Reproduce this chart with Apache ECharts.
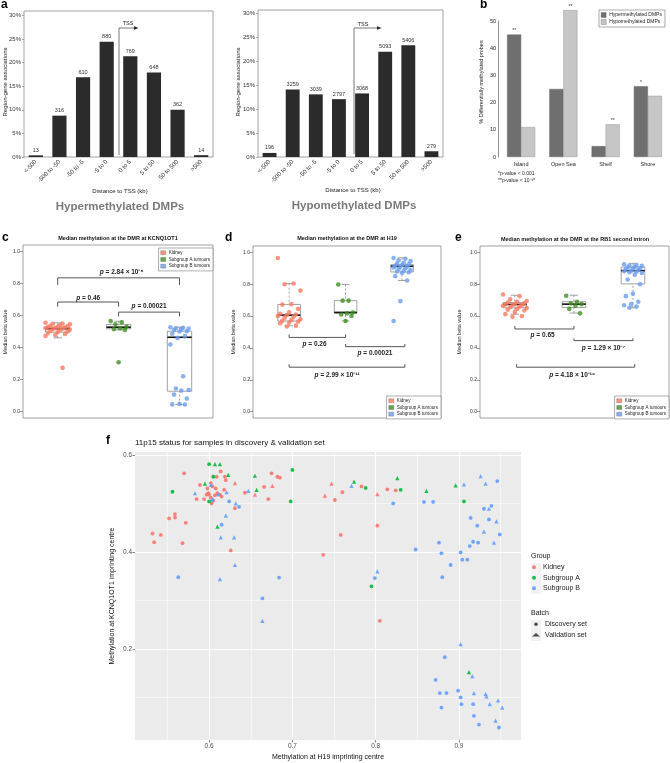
<!DOCTYPE html>
<html><head><meta charset="utf-8">
<script src="https://cdn.jsdelivr.net/npm/echarts@6/dist/echarts.min.js"></script>
<style>html,body{margin:0;padding:0;background:#fff}#c{width:670px;height:763px}</style>
</head><body><div id="c"></div>
<script>
// ---------- Panel a ----------
const tssCategories = ['<-500','-500 to -50','-50 to -5','-5 to 0','0 to 5','5 to 50','50 to 500','>500'];
const hyperCounts = [13,316,610,880,769,648,362,14];
const hyperPercent = [0.36,8.75,16.9,24.4,21.3,17.9,10.0,0.39];
const hypoCounts = [196,3259,3039,2797,3068,5093,5406,279];
const hypoPercent = [0.85,14.1,13.1,12.1,13.3,22.0,23.4,1.2];
const pctTicks = [0,5,10,15,20,25,30];

// ---------- Panel b ----------
const cpgCategories = ['Island','Open Sea','Shelf','Shore'];
const cpgHyper = [45,25,4,26];
const cpgHypo = [11,54,12,22.5];
const cpgHyperStars = ['**','','','*'];
const cpgHypoStars = ['','**','**',''];

// ---------- Panels c-e ----------
const betaTicks = [0,0.2,0.4,0.6,0.8,1.0];
const boxGroups = ['Kidney','Subgroup A tumours','Subgroup B tumours'];
// [x, whiskerLow, q1, median, q3, whiskerHigh]
const kcnqBoxes = [[1,0.46,0.496,0.517,0.527,0.554],[2,0.51,0.517,0.527,0.544,0.564],[3,0.044,0.127,0.464,0.502,0.527]];
const h19Boxes  = [[1,0.539,0.569,0.606,0.673,0.804],[2,0.569,0.617,0.623,0.697,0.798],[3,0.823,0.877,0.913,0.923,0.966]];
const rb1Boxes  = [[1,0.612,0.652,0.673,0.685,0.731],[2,0.619,0.654,0.675,0.69,0.731],[3,0.652,0.802,0.885,0.908,0.931]];

const kcnqKidney = [0.555,0.55,0.548,0.545,0.54,0.535,0.532,0.53,0.528,0.525,0.522,0.52,0.518,0.515,0.512,0.51,0.505,0.50,0.495,0.49,0.485,0.478,0.472,0.273];
const kcnqSubA = [0.565,0.558,0.545,0.53,0.52,0.515,0.51,0.308];
const kcnqSubB = [0.527,0.523,0.52,0.518,0.513,0.51,0.502,0.50,0.486,0.471,0.46,0.419,0.221,0.144,0.135,0.131,0.106,0.081,0.048,0.045,0.044];

const h19Kidney = [0.965,0.805,0.80,0.76,0.675,0.672,0.645,0.623,0.615,0.61,0.606,0.60,0.595,0.59,0.58,0.575,0.57,0.565,0.56,0.555,0.54,0.535];
const h19SubA = [0.798,0.697,0.697,0.622,0.617,0.61,0.60,0.569];
const h19SubB = [0.965,0.96,0.95,0.945,0.935,0.93,0.925,0.92,0.915,0.912,0.91,0.905,0.90,0.895,0.89,0.885,0.88,0.875,0.87,0.85,0.823,0.694,0.569];

const rb1Kidney = [0.735,0.725,0.705,0.695,0.69,0.685,0.68,0.675,0.672,0.67,0.668,0.665,0.66,0.655,0.65,0.645,0.64,0.635,0.625,0.612,0.60,0.595];
const rb1SubA = [0.728,0.69,0.68,0.675,0.665,0.645,0.617];
const rb1SubB = [0.925,0.92,0.918,0.915,0.91,0.905,0.90,0.898,0.895,0.89,0.885,0.882,0.878,0.875,0.87,0.86,0.83,0.80,0.74,0.725,0.69,0.675,0.668,0.66,0.652];

// brackets: [x1, x2, yBar, yLegEnd, textX, textY]
const kcnqBrackets = [[1,3,0.835,0.79,2.05,0.873],[1,2,0.684,0.655,1.5,0.71],[2,3,0.621,0.594,2.5,0.658]];
const kcnqPvals = ['2.84 × 10⁻⁵','0.46','0.00021'];
const h19Brackets = [[1,2,0.466,0.485,1.45,0.425],[2,3.05,0.408,0.425,2.52,0.367],[1,3.05,0.279,0.298,1.85,0.231]];
const h19Pvals = ['0.26','0.00021','2.99 × 10⁻¹¹'];
const rb1Brackets = [[1,2,0.519,0.538,1.47,0.481],[2,3,0.446,0.46,2.5,0.398],[1.03,3.03,0.279,0.298,1.97,0.231]];
const rb1Pvals = ['0.65','1.29 × 10⁻⁷','4.18 × 10⁻¹⁹'];

// ---------- Panel f ---------- [H19, KCNQ1OT1, batch(0 discovery,1 validation)]
const fKidney = [[0.570,0.562,0],[0.532,0.438,0],[0.534,0.420,0],[0.542,0.435,0],[0.552,0.469,0],[0.559,0.478,0],[0.559,0.471,0],[0.572,0.460,0],[0.568,0.418,0],[0.589,0.538,0],[0.585,0.509,0],[0.594,0.509,0],[0.597,0.518,0],[0.598,0.531,0],[0.599,0.521,0],[0.600,0.518,0],[0.602,0.542,0],[0.602,0.512,0],[0.603,0.500,0],[0.604,0.535,0],[0.605,0.506,0],[0.607,0.517,0],[0.609,0.555,0],[0.608,0.531,0],[0.610,0.521,0],[0.613,0.518,0],[0.614,0.566,0],[0.615,0.514,0],[0.618,0.528,0],[0.619,0.555,0],[0.620,0.548,0],[0.631,0.542,1],[0.631,0.490,0],[0.626,0.403,0],[0.643,0.522,0],[0.655,0.518,1],[0.666,0.534,0],[0.671,0.509,0],[0.675,0.562,0],[0.676,0.536,1],[0.682,0.555,0],[0.685,0.553,0],[0.737,0.394,0],[0.739,0.516,1],[0.747,0.541,1],[0.751,0.507,0],[0.760,0.523,0],[0.758,0.435,0],[0.783,0.535,0],[0.802,0.519,1],[0.802,0.454,0],[0.805,0.258,0],[0.814,0.529,0],[0.824,0.527,0]];
const fSubA = [[0.600,0.581,0],[0.607,0.581,1],[0.613,0.581,1],[0.605,0.555,0],[0.623,0.559,1],[0.595,0.541,1],[0.556,0.524,0],[0.600,0.504,0],[0.610,0.452,1],[0.655,0.557,1],[0.657,0.528,1],[0.700,0.569,0],[0.698,0.504,0],[0.774,0.545,1],[0.788,0.532,0],[0.826,0.552,1],[0.830,0.528,0],[0.861,0.526,1],[0.896,0.537,1],[0.906,0.504,0],[0.795,0.329,0],[0.912,0.152,1]];
const fSubB = [[0.583,0.521,1],[0.602,0.538,1],[0.604,0.507,0],[0.611,0.519,1],[0.621,0.523,1],[0.624,0.504,0],[0.632,0.500,1],[0.636,0.493,0],[0.647,0.526,1],[0.620,0.475,1],[0.615,0.456,0],[0.614,0.430,1],[0.630,0.430,1],[0.631,0.373,1],[0.563,0.348,0],[0.613,0.344,1],[0.664,0.304,0],[0.664,0.258,1],[0.684,0.347,0],[0.771,0.536,1],[0.821,0.500,0],[0.858,0.503,0],[0.869,0.503,0],[0.848,0.405,0],[0.876,0.419,0],[0.879,0.397,0],[0.890,0.373,0],[0.880,0.348,0],[0.802,0.360,1],[0.799,0.346,0],[0.902,0.399,0],[0.904,0.384,0],[0.910,0.384,0],[0.906,0.539,1],[0.926,0.556,1],[0.932,0.541,1],[0.946,0.546,0],[0.930,0.489,0],[0.936,0.489,1],[0.939,0.495,0],[0.914,0.470,0],[0.922,0.454,0],[0.936,0.467,0],[0.945,0.463,1],[0.930,0.442,1],[0.949,0.436,0],[0.917,0.421,0],[0.923,0.419,0],[0.913,0.412,0],[0.942,0.419,1],[0.902,0.210,1],[0.883,0.183,0],[0.916,0.144,1],[0.872,0.136,0],[0.877,0.109,0],[0.885,0.109,0],[0.899,0.114,0],[0.902,0.100,0],[0.918,0.109,1],[0.932,0.107,1],[0.933,0.102,1],[0.879,0.079,0],[0.903,0.086,0],[0.917,0.086,0],[0.937,0.086,1],[0.947,0.094,1],[0.952,0.079,1],[0.918,0.062,0],[0.924,0.044,0],[0.944,0.052,1],[0.948,0.038,0]];
const fMajorX = [0.6,0.7,0.8,0.9], fMinorX = [0.55,0.65,0.75,0.85,0.95];
const fMajorY = [0.2,0.4,0.6], fMinorY = [0.1,0.3,0.5];

// ---------- rendering ----------
const FONT = "'Liberation Sans', Arial, sans-serif";
const C_K = '#FA7A63', C_A = '#3F8E22', C_B = '#6B9DEB';
const F_K = '#F8766D', F_A = '#00BA38', F_B = '#619CFF';
const chart = echarts.init(document.getElementById('c'), null, {width:670, height:763});

function jitter(i, spread){ return (((i*7) % 11) - 5) / 5 * spread; }

function boxRender(params, api){
  const x = api.value(0), lo = api.value(1), q1 = api.value(2), med = api.value(3), q3 = api.value(4), hi = api.value(5);
  const hw = 0.2, cw = 0.07;
  const tl = api.coord([x-hw, q3]), br = api.coord([x+hw, q1]);
  const mL = api.coord([x-hw, med]), mR = api.coord([x+hw, med]);
  const pHi = api.coord([x, hi]), pQ3 = api.coord([x, q3]), pQ1 = api.coord([x, q1]), pLo = api.coord([x, lo]);
  const cHL = api.coord([x-cw, hi]), cHR = api.coord([x+cw, hi]), cLL = api.coord([x-cw, lo]), cLR = api.coord([x+cw, lo]);
  const grey = '#8a8a8a';
  return {type:'group', children:[
    {type:'line', shape:{x1:pHi[0],y1:pHi[1],x2:pQ3[0],y2:pQ3[1]}, style:{stroke:grey, lineWidth:0.8, lineDash:[2,2]}},
    {type:'line', shape:{x1:pLo[0],y1:pLo[1],x2:pQ1[0],y2:pQ1[1]}, style:{stroke:grey, lineWidth:0.8, lineDash:[2,2]}},
    {type:'line', shape:{x1:cHL[0],y1:cHL[1],x2:cHR[0],y2:cHR[1]}, style:{stroke:grey, lineWidth:0.8}},
    {type:'line', shape:{x1:cLL[0],y1:cLL[1],x2:cLR[0],y2:cLR[1]}, style:{stroke:grey, lineWidth:0.8}},
    {type:'rect', shape:{x:tl[0], y:tl[1], width:br[0]-tl[0], height:br[1]-tl[1]}, style:{fill:'#fff', stroke:grey, lineWidth:0.8}},
    {type:'line', shape:{x1:mL[0],y1:mL[1],x2:mR[0],y2:mR[1]}, style:{stroke:'#111', lineWidth:1.6}}
  ]};
}
function bracketRender(labels){
  return function(params, api){
    const x1 = api.value(0), x2 = api.value(1), yb = api.value(2), yl = api.value(3), tx = api.value(4), ty = api.value(5);
    const p1 = api.coord([x1, yl]), p2 = api.coord([x1, yb]), p3 = api.coord([x2, yb]), p4 = api.coord([x2, yl]);
    const pt = api.coord([tx, ty]);
    return {type:'group', children:[
      {type:'polyline', shape:{points:[p1,p2,p3,p4]}, style:{stroke:'#555', lineWidth:1, fill:null}},
      {type:'text', x:pt[0], y:pt[1], style:{text:'{i|p} = ' + labels[params.dataIndex], fontSize:6.5, fontWeight:'bold', fontFamily:FONT, fill:'#222', align:'center', verticalAlign:'middle', rich:{i:{fontStyle:'italic', fontWeight:'bold', fontSize:6.5, fontFamily:FONT, fill:'#222'}}}}
    ]};
  };
}
function pointSeries(name, vals, center, spread, color, idx){
  return {name, type:'scatter', xAxisIndex:idx, yAxisIndex:idx, z:4, symbolSize:4.6,
    data: vals.map((v,i)=>[center + jitter(i, spread), v]), itemStyle:{color}};
}
function boxPanel(idx, boxes, k, a, b, brackets, pvals){
  return [
    {type:'custom', xAxisIndex:idx, yAxisIndex:idx, z:2, silent:true, data:boxes, renderItem:boxRender},
    pointSeries('Kidney', k, 1, 0.2, C_K, idx),
    pointSeries('Subgroup A tumours', a, 2, 0.13, C_A, idx),
    pointSeries('Subgroup B tumours', b, 3, 0.15, C_B, idx),
    {type:'custom', xAxisIndex:idx, yAxisIndex:idx, z:3, silent:true, data:brackets, renderItem:bracketRender(pvals)}
  ];
}
function boxLegend(right, top){
  return {orient:'vertical', right, top, data:boxGroups, icon:'rect', itemWidth:5, itemHeight:4, itemGap:1.2,
    padding:[2,3,2,2], borderColor:'#777', borderWidth:0.6, backgroundColor:'#fff', selectedMode:false,
    itemStyle:{borderColor:'#333', borderWidth:0.3},
    textStyle:{fontSize:4.5, lineHeight:5.5, color:'#222', fontFamily:FONT, padding:[0,0,0,-2]}};
}
function catAxisA(grid){
  return {gridIndex:grid, type:'category', data:tssCategories, axisLine:{show:false}, axisTick:{show:false},
    axisLabel:{rotate:45, fontSize:6, color:'#333', margin:4, interval:0}};
}
function valAxisA(grid, max){
  return {gridIndex:grid, type:'value', min:0, max, axisLine:{show:false}, splitLine:{show:false},
    axisTick:{show:true, length:2, customValues:pctTicks, lineStyle:{color:'#777', width:0.6}},
    axisLabel:{customValues:pctTicks, formatter:'{value}%', fontSize:6, color:'#333', margin:3}};
}
function boxXAxis(grid, min, max){
  return {gridIndex:grid, type:'value', min, max, axisLine:{show:false}, axisTick:{show:false}, axisLabel:{show:false}, splitLine:{show:false}};
}
function boxYAxis(grid){
  return {gridIndex:grid, type:'value', min:-0.04, max:1.04, axisLine:{show:false}, splitLine:{show:false},
    axisTick:{length:3, customValues:betaTicks, lineStyle:{color:'#555', width:0.6}},
    axisLabel:{customValues:betaTicks, formatter:v=>v.toFixed(1), fontSize:5, color:'#333', margin:3}};
}
function fSeries(name, pts, color){
  return {name, type:'scatter', xAxisIndex:6, yAxisIndex:6, z:4,
    data: pts, symbol:v=>v[2]===1?'triangle':'circle', symbolSize:v=>v[2]===1?4.2:3.8, itemStyle:{color, opacity:0.9}};
}
function txt(text, x, y, o){
  o = o || {};
  return {type:'text', x, y, rotation:o.rot||0, z:10, style:{text, fontSize:o.size||6, fontWeight:o.weight||'normal', fontFamily:FONT,
    fill:o.color||'#222', align:o.align||'center', verticalAlign:o.va||'middle'}};
}
const R90 = Math.PI/2;
const frame = {show:true, borderColor:'#8a8a8a', borderWidth:0.8, backgroundColor:'transparent'};

const option = {
  animation:false,
  textStyle:{fontFamily:FONT},
  grid:[
    Object.assign({left:24, top:11, width:189, height:146}, frame),
    Object.assign({left:258, top:10, width:185, height:147}, frame),
    {left:500, top:21, width:169, height:136},
    Object.assign({left:23, top:245, width:190, height:173}, frame),
    Object.assign({left:253, top:246, width:188, height:172}, frame),
    Object.assign({left:480, top:246, width:189, height:172}, frame),
    {left:135, top:452, width:386, height:288, show:true, backgroundColor:'#EBEBEB', borderWidth:0}
  ],
  xAxis:[
    catAxisA(0), catAxisA(1),
    {gridIndex:2, type:'category', data:cpgCategories, axisLine:{show:false}, axisTick:{show:false}, axisLabel:{fontSize:5.5, color:'#222', margin:4}},
    boxXAxis(3, 0.43, 3.55), boxXAxis(4, 0.36, 3.69), boxXAxis(5, 0.41, 3.61),
    {gridIndex:6, type:'value', min:0.511, max:0.9745, axisLine:{show:false},
      axisTick:{length:2.5, customValues:fMajorX, lineStyle:{color:'#333', width:0.6}},
      axisLabel:{customValues:fMajorX, formatter:v=>v.toFixed(1), fontSize:6.5, color:'#4D4D4D', margin:3},
      splitLine:{show:true, lineStyle:{color:'#fff', width:1}}},
    {gridIndex:6, type:'value', position:'top', min:0.511, max:0.9745, axisLine:{show:false},
      axisTick:{show:false, customValues:fMinorX}, axisLabel:{show:false, customValues:fMinorX},
      splitLine:{show:true, lineStyle:{color:'#fff', width:0.5}}}
  ],
  yAxis:[
    valAxisA(0, 30.9), valAxisA(1, 30.75),
    {gridIndex:2, type:'value', min:0, max:50, interval:10, offset:2, splitLine:{show:false},
      axisLine:{show:true, lineStyle:{color:'#444', width:0.6}}, axisTick:{length:3, lineStyle:{color:'#444', width:0.6}},
      axisLabel:{fontSize:5.5, color:'#222', margin:2}},
    boxYAxis(3), boxYAxis(4), boxYAxis(5),
    {gridIndex:6, type:'value', min:0.0122, max:0.606, axisLine:{show:false},
      axisTick:{length:2.5, customValues:fMajorY, lineStyle:{color:'#333', width:0.6}},
      axisLabel:{customValues:fMajorY, formatter:v=>v.toFixed(1), fontSize:6.5, color:'#4D4D4D', margin:3},
      splitLine:{show:true, lineStyle:{color:'#fff', width:1}}},
    {gridIndex:6, type:'value', position:'right', min:0.0122, max:0.606, axisLine:{show:false},
      axisTick:{show:false, customValues:fMinorY}, axisLabel:{show:false, customValues:fMinorY},
      splitLine:{show:true, lineStyle:{color:'#fff', width:0.5}}}
  ],
  legend:[
    {orient:'vertical', left:599, top:10, data:['Hypermethylated DMPs','Hypomethylated DMPs'], icon:'rect', itemWidth:5, itemHeight:5,
      itemGap:1, padding:[2,3,2,2], borderColor:'#555', borderWidth:0.5, selectedMode:false,
      itemStyle:{borderColor:'#444', borderWidth:0.3}, textStyle:{fontSize:5, lineHeight:6, color:'#222', fontFamily:FONT, padding:[0,0,0,-2]}},
    boxLegend(457, 248), boxLegend(229, 396), boxLegend(1, 396),
    {orient:'vertical', left:532, top:563, data:[{name:'f-Kidney',icon:'circle'},{name:'f-Subgroup A',icon:'circle'},{name:'f-Subgroup B',icon:'circle'}],
      itemWidth:8, itemHeight:4, itemGap:2, padding:0, selectedMode:false, formatter:n=>n.replace('f-',''),
      textStyle:{fontSize:7, lineHeight:8.5, color:'#222', fontFamily:FONT}},
    {orient:'vertical', left:532, top:620, data:[{name:'f-Discovery set',icon:'circle'},{name:'f-Validation set',icon:'triangle'}],
      itemWidth:8, itemHeight:3.5, itemGap:2, padding:0, selectedMode:false, formatter:n=>n.replace('f-',''),
      textStyle:{fontSize:7, lineHeight:8.5, color:'#222', fontFamily:FONT}}
  ],
  series:[
    {type:'bar', xAxisIndex:0, yAxisIndex:0, data:hyperPercent, barWidth:'60%', itemStyle:{color:'#2b2b2b'},
      label:{show:true, position:'top', distance:2, fontSize:5.5, color:'#333', formatter:p=>hyperCounts[p.dataIndex]}},
    {type:'bar', xAxisIndex:1, yAxisIndex:1, data:hypoPercent, barWidth:'60%', itemStyle:{color:'#2b2b2b'},
      label:{show:true, position:'top', distance:2, fontSize:5.5, color:'#333', formatter:p=>hypoCounts[p.dataIndex]}},
    {name:'Hypermethylated DMPs', type:'bar', xAxisIndex:2, yAxisIndex:2, data:cpgHyper, barWidth:14, barGap:'0%', clip:false,
      itemStyle:{color:'#6f6f6f', borderColor:'#555', borderWidth:0.4},
      label:{show:true, position:'top', distance:1, fontSize:5, color:'#333', formatter:p=>cpgHyperStars[p.dataIndex]}},
    {name:'Hypomethylated DMPs', type:'bar', xAxisIndex:2, yAxisIndex:2, data:cpgHypo, barWidth:14, barGap:'0%', clip:false,
      itemStyle:{color:'#c6c6c6', borderColor:'#888', borderWidth:0.4},
      label:{show:true, position:'top', distance:1, fontSize:5, color:'#333', formatter:p=>cpgHypoStars[p.dataIndex]}},
    ...boxPanel(3, kcnqBoxes, kcnqKidney, kcnqSubA, kcnqSubB, kcnqBrackets, kcnqPvals),
    ...boxPanel(4, h19Boxes, h19Kidney, h19SubA, h19SubB, h19Brackets, h19Pvals),
    ...boxPanel(5, rb1Boxes, rb1Kidney, rb1SubA, rb1SubB, rb1Brackets, rb1Pvals),
    fSeries('f-Kidney', fKidney, F_K),
    fSeries('f-Subgroup A', fSubA, F_A),
    fSeries('f-Subgroup B', fSubB, F_B),
    {name:'f-Discovery set', type:'scatter', xAxisIndex:6, yAxisIndex:6, data:[], symbol:'circle', itemStyle:{color:'#222'}},
    {name:'f-Validation set', type:'scatter', xAxisIndex:6, yAxisIndex:6, data:[], symbol:'triangle', itemStyle:{color:'#222'}}
  ],
  graphic:[
    // panel letters
    txt('a', 1, 5, {size:12, weight:'bold', align:'left', color:'#000'}),
    txt('b', 480, 5, {size:12, weight:'bold', align:'left', color:'#000'}),
    txt('c', 2, 238, {size:12, weight:'bold', align:'left', color:'#000'}),
    txt('d', 225, 238, {size:12, weight:'bold', align:'left', color:'#000'}),
    txt('e', 455, 238, {size:12, weight:'bold', align:'left', color:'#000'}),
    txt('f', 106, 441, {size:12, weight:'bold', align:'left', color:'#000'}),
    // panel a texts
    txt('Region-gene associations', 5, 82, {size:6, rot:R90}),
    txt('Region-gene associations', 238, 82, {size:6, rot:R90}),
    txt('Distance to TSS (kb)', 120, 191, {size:6}),
    txt('Distance to TSS (kb)', 353, 190, {size:6}),
    txt('Hypermethylated DMPs', 120, 207, {size:11.5, weight:'bold', color:'#7a7a7a'}),
    txt('Hypomethylated DMPs', 354, 206, {size:11.5, weight:'bold', color:'#7a7a7a'}),
    {type:'polyline', z:10, shape:{points:[[119,155],[119,28],[135,28]]}, style:{stroke:'#555', lineWidth:0.8, fill:null}},
    {type:'polygon', z:10, shape:{points:[[138.5,28],[134,26.2],[134,29.8]]}, style:{fill:'#222'}},
    txt('TSS', 128, 23, {size:5.5}),
    {type:'polyline', z:10, shape:{points:[[354,154],[354,28],[378,28]]}, style:{stroke:'#555', lineWidth:0.8, fill:null}},
    {type:'polygon', z:10, shape:{points:[[381.5,28],[377,26.2],[377,29.8]]}, style:{fill:'#222'}},
    txt('TSS', 363, 24, {size:5.5}),
    // panel b texts
    txt('% Differentially methylated probes', 481, 82, {size:5.5, rot:R90}),
    txt('*p-value < 0.001', 498, 174, {size:5, align:'left'}),
    txt('**p-value < 10⁻¹⁰', 498, 180.5, {size:5, align:'left'}),
    // panels c-e
    txt('Median methylation at the DMR at KCNQ1OT1', 118, 238, {size:5.5, weight:'bold', color:'#111'}),
    txt('Median methylation at the DMR at H19', 347, 238, {size:5.5, weight:'bold', color:'#111'}),
    txt('Median methylation at the DMR at the RB1 second intron', 575, 239, {size:5.5, weight:'bold', color:'#111'}),
    txt('Median beta value', 5, 332, {size:5.5, rot:R90}),
    txt('Median beta value', 233, 332, {size:5.5, rot:R90}),
    txt('Median beta value', 459, 332, {size:5.5, rot:R90}),
    // panel f
    txt('11p15 status for samples in discovery & validation set', 135, 443, {size:8, align:'left', color:'#111'}),
    txt('Methylation at H19 imprinting centre', 328, 757, {size:7, color:'#111'}),
    txt('Methylation at KCNQ1OT1 imprinting centre', 112, 596, {size:7, rot:R90, color:'#111'}),
    txt('Group', 531, 556, {size:7, align:'left', color:'#111'}),
    txt('Batch', 531, 613, {size:7, align:'left', color:'#111'}),
    {type:'rect', z:0, shape:{x:531, y:563, width:10, height:31}, style:{fill:'#F2F2F2'}},
    {type:'rect', z:0, shape:{x:531, y:620, width:10, height:21}, style:{fill:'#F2F2F2'}}
  ]
};
chart.setOption(option);
</script>
</body></html>
